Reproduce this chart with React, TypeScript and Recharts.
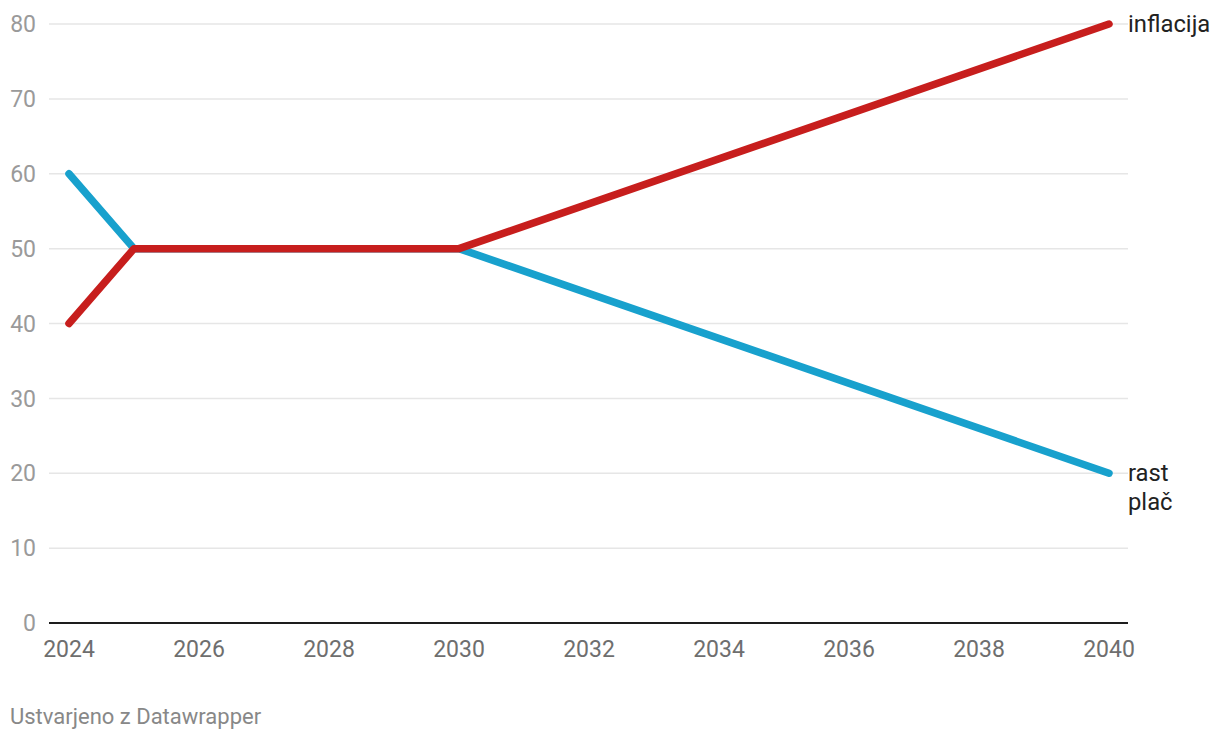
import React from "react";
import { LineChart, Line, XAxis, YAxis, CartesianGrid, LabelList } from "recharts";

// years with a data point
const years = [2024, 2025, 2030, 2040];
// "rast plač" (blue) and "inflacija" (red)
const wageGrowth = [60, 50, 50, 20];
const inflation = [40, 50, 50, 80];

const xTicks = [2024, 2026, 2028, 2030, 2032, 2034, 2036, 2038, 2040];
const yTicks = [0, 10, 20, 30, 40, 50, 60, 70, 80];

const COLORS = {
  blue: "#18a1cd",
  red: "#c71e1d",
  grid: "#e6e6e6",
  axis: "#1d1d1d",
  yTick: "#9a9a9a",
  xTick: "#6e6e6e",
  label: "#222222",
  footer: "#888888",
};

const FONT = "Roboto, 'Noto Sans', sans-serif";

const data = years.map((year, i) => ({
  year,
  wages: wageGrowth[i],
  inflation: inflation[i],
}));

const last = years.length - 1;

const makeLabel = (lines: string[]) => (props: any) => {
  const { x, y, index } = props;
  if (index !== last) return null;
  return (
    <text
      x={Number(x) + 19}
      y={Number(y)}
      fill={COLORS.label}
      fontSize={23.8}
      fontFamily={FONT}
      dominantBaseline="central"
    >
      {lines.map((t, i) => (
        <tspan key={i} x={Number(x) + 19} dy={i === 0 ? 0 : 29}>
          {t}
        </tspan>
      ))}
    </text>
  );
};

export default function App() {
  return (
    <div style={{ position: "absolute", left: 0, top: 0, width: 1220, height: 740, background: "#fff", fontFamily: FONT }}>
      <LineChart
        width={1220}
        height={740}
        data={data}
        margin={{ top: 24, right: 92, bottom: 87, left: 0 }}
      >
        <CartesianGrid horizontal vertical={false} stroke={COLORS.grid} strokeWidth={1.5} />
        <XAxis
          dataKey="year"
          type="number"
          domain={[2024, 2040]}
          ticks={xTicks}
          padding={{ left: 20, right: 19 }}
          height={30}
          tickLine={false}
          tickSize={0}
          tickMargin={18}
          axisLine={{ stroke: COLORS.axis, strokeWidth: 2 }}
          tick={{ fill: COLORS.xTick, fontSize: 23, fontFamily: FONT }}
        />
        <YAxis
          type="number"
          domain={[0, 80]}
          ticks={yTicks}
          width={49}
          axisLine={false}
          tickLine={false}
          tickSize={0}
          tickMargin={13}
          tick={{ fill: COLORS.yTick, fontSize: 23, fontFamily: FONT }}
        />
        <Line
          dataKey="wages"
          stroke={COLORS.blue}
          strokeWidth={7.5}
          strokeLinecap="round"
          strokeLinejoin="round"
          dot={false}
          isAnimationActive={false}
        >
          <LabelList dataKey="wages" content={makeLabel(["rast", "plač"])} />
        </Line>
        <Line
          dataKey="inflation"
          stroke={COLORS.red}
          strokeWidth={7.5}
          strokeLinecap="round"
          strokeLinejoin="round"
          dot={false}
          isAnimationActive={false}
        >
          <LabelList dataKey="inflation" content={makeLabel(["inflacija"])} />
        </Line>
      </LineChart>
      <div
        style={{
          position: "absolute",
          left: 10,
          top: 704,
          fontSize: 22,
          color: COLORS.footer,
          fontFamily: FONT,
          lineHeight: "26px",
        }}
      >
        Ustvarjeno z Datawrapper
      </div>
    </div>
  );
}
